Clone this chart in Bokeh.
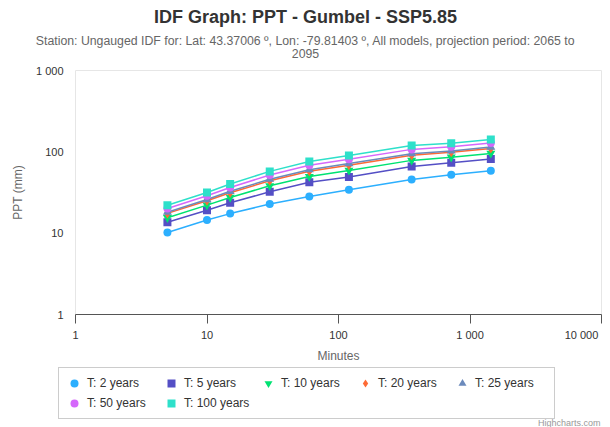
from bokeh.plotting import figure
from bokeh.layouts import column
from bokeh.models import (Range1d, FixedTicker, Label, Legend, LegendItem, ColumnDataSource)
from bokeh.embed import file_html
from bokeh.resources import INLINE

# Rainfall depth (mm) by duration (minutes) for each return period
durations = [5, 10, 15, 30, 60, 120, 360, 720, 1440]
t2 = [10.2, 14.5, 17.4, 22.8, 28.3, 34.2, 45.6, 52.3, 58.5]
t5 = [13.6, 19.1, 23.6, 32.3, 42.2, 49.2, 66.0, 73.5, 81.5]
t10 = [15.5, 22.1, 27.5, 38.2, 49.6, 59.1, 78.5, 85.9, 95.7]
t20 = [17.5, 25.0, 31.4, 44.1, 57.8, 68.6, 91.0, 98.7, 109.9]
t25 = [18.1, 25.9, 32.7, 46.0, 60.3, 71.7, 95.0, 102.7, 114.4]
t50 = [20.1, 28.8, 36.4, 51.8, 68.3, 80.9, 107.2, 115.3, 128.2]
t100 = [22.0, 31.6, 40.2, 57.5, 76.2, 90.2, 119.4, 127.7, 142.0]

series_names = ["T: 2 years", "T: 5 years", "T: 10 years", "T: 20 years",
                "T: 25 years", "T: 50 years", "T: 100 years"]
series_values = [t2, t5, t10, t20, t25, t50, t100]

x_ticks = [1, 10, 100, 1000, 10000]
x_tick_labels = ["1", "10", "100", "1 000", "10 000"]
y_ticks = [1, 10, 100, 1000]
y_tick_labels = ["1", "10", "100", "1 000"]

title_text = "IDF Graph: PPT - Gumbel - SSP5.85"
subtitle_line1 = ("Station: Ungauged IDF for: Lat: 43.37006 \u00ba, Lon: -79.81403 \u00ba, "
                  "All models, projection period: 2065 to")
subtitle_line2 = "2095"
credits_text = "Highcharts.com"

colors = ["#2caffe", "#544fc5", "#00e272", "#fe6a35", "#6b8abc", "#d568fb", "#2ee0ca"]
markers = ["circle", "square", "inverted_triangle", "diamond", "triangle", "circle", "square"]
marker_sizes = [8, 8, 9, 10, 9, 8, 8]

FONT = "Liberation Sans"
W = 610
TOP_H = 60
MAIN_H = 305
LEG_H = 427 - TOP_H - MAIN_H


def bare_figure(height):
    f = figure(width=W, height=height, x_range=Range1d(0, W), y_range=Range1d(0, height),
               x_axis_location=None, y_axis_location=None,
               output_backend="svg", toolbar_location=None, min_border=0)
    # keep this block's frame on the full canvas instead of lining it up with the chart
    if "frame_align" in f.properties():
        f.frame_align = False
    f.outline_line_color = None
    f.xgrid.visible = False
    f.ygrid.visible = False
    f.background_fill_color = "white"
    f.border_fill_color = "white"
    return f


# ---- title block ----
top = bare_figure(TOP_H)
top.add_layout(Label(x=W / 2, y=TOP_H - 16, text=title_text, text_align="center",
                     text_baseline="middle", text_font=FONT, text_font_size="18px",
                     text_font_style="bold", text_color="#333333"))
top.add_layout(Label(x=W / 2, y=TOP_H - 40, text=subtitle_line1, text_align="center",
                     text_baseline="middle", text_font=FONT, text_font_size="12.3px",
                     text_color="#666666"))
top.add_layout(Label(x=W / 2, y=TOP_H - 53, text=subtitle_line2, text_align="center",
                     text_baseline="middle", text_font=FONT, text_font_size="12.3px",
                     text_color="#666666"))

# ---- main chart ----
p = figure(width=W, height=MAIN_H, x_axis_type="log", y_axis_type="log",
           x_range=Range1d(1, 10000), y_range=Range1d(1, 1000),
           output_backend="svg", toolbar_location=None,
           min_border_left=75, min_border_right=9,
           min_border_top=10, min_border_bottom=49)
if "frame_align" in p.properties():
    p.frame_align = False
p.background_fill_color = "white"
p.border_fill_color = "white"
p.outline_line_color = "#e6e6e6"
p.xgrid.visible = False
p.ygrid.visible = False

xa = p.xaxis[0]
xa.ticker = FixedTicker(ticks=x_ticks, minor_ticks=[])
# the last label sits at the right edge, so it is padded to stay inside the canvas
xa.major_label_overrides = {
    t: (lab if t != x_ticks[-1] else lab + "\u00a0" * 4)
    for t, lab in zip(x_ticks, x_tick_labels)
}
xa.axis_line_color = "#555555"
xa.major_tick_line_color = "#555555"
xa.major_tick_in = 0
xa.major_tick_out = 9
xa.minor_tick_line_color = None
xa.major_label_standoff = 5
xa.major_label_text_font = FONT
xa.major_label_text_font_size = "11px"
xa.major_label_text_color = "#333333"
xa.axis_label = "Minutes"
xa.axis_label_text_font = FONT
xa.axis_label_text_font_size = "12px"
xa.axis_label_text_font_style = "normal"
xa.axis_label_text_color = "#666666"
xa.axis_label_standoff = 5

ya = p.yaxis[0]
ya.ticker = FixedTicker(ticks=y_ticks, minor_ticks=[])
ya.major_label_overrides = {t: lab for t, lab in zip(y_ticks, y_tick_labels)}
ya.axis_line_color = None
ya.major_tick_line_color = None
ya.minor_tick_line_color = None
ya.major_tick_in = 0
ya.major_tick_out = 0
ya.major_label_standoff = 12
ya.major_label_text_font = FONT
ya.major_label_text_font_size = "11px"
ya.major_label_text_color = "#333333"
ya.axis_label = "PPT (mm)"
ya.axis_label_text_font = FONT
ya.axis_label_text_font_size = "12px"
ya.axis_label_text_font_style = "normal"
ya.axis_label_text_color = "#666666"
ya.axis_label_standoff = 8

for vals, col, mk, sz in zip(series_values, colors, markers, marker_sizes):
    p.line(durations, vals, line_color=col, line_width=1.5)
    p.scatter(durations, vals, marker=mk, size=sz, fill_color=col, line_color=None)

# ---- legend block ----
leg = bare_figure(LEG_H)
items = []
for name, col, mk, sz in zip(series_names, colors, markers, marker_sizes):
    # off-canvas stand-in point so the legend can draw the series symbol
    r = leg.scatter(x="x", y="y", source=ColumnDataSource(data=dict(x=[-50], y=[-50])),
                    marker=mk, size=sz, fill_color=col, line_color=None)
    items.append(LegendItem(label=name, renderers=[r]))

legend = Legend(items=items, orientation="horizontal", ncols=5,
                location=(58, 8),
                border_line_color="#999999", border_line_width=1,
                background_fill_color="white", background_fill_alpha=1.0,
                label_text_font=FONT, label_text_font_size="12px",
                label_text_color="#333333",
                glyph_width=20, glyph_height=20, label_height=20,
                label_standoff=3, label_width=74, spacing=0,
                padding=5, margin=0)
leg.add_layout(legend, "center")
leg.add_layout(Label(x=600, y=LEG_H - 57, text=credits_text, text_align="right",
                     text_baseline="alphabetic", text_font=FONT, text_font_size="9px",
                     text_color="#999999"))

layout = column(top, p, leg, spacing=0)
open("out.html", "w").write(file_html(layout, INLINE))
